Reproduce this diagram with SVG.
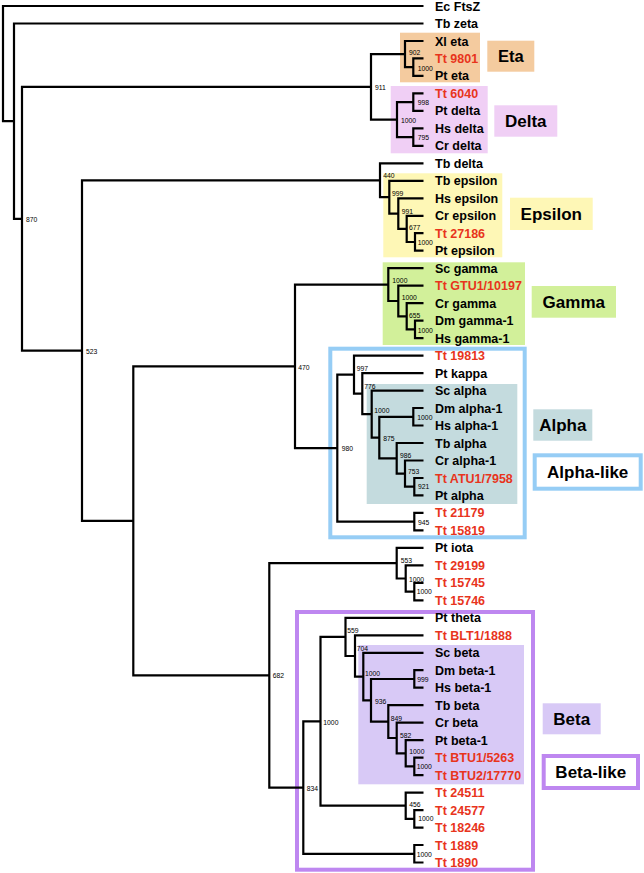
<svg xmlns="http://www.w3.org/2000/svg" width="644" height="873" viewBox="0 0 644 873">
<style>
.br{fill:none;stroke:#000;stroke-width:2.2;stroke-linejoin:miter;stroke-linecap:butt}
.lf{font-family:"Liberation Sans",Arial,sans-serif;font-weight:bold;font-size:12.5px;fill:#000}
.r{fill:#E8341C}
.bs{font-family:"Liberation Sans",Arial,sans-serif;font-size:6.8px;fill:#000}
.gl{font-family:"Liberation Sans",Arial,sans-serif;font-weight:bold;font-size:17px;fill:#000;text-anchor:middle}
.eta{fill:#F4CB9F}.delta{fill:#F0CFF5}.eps{fill:#FEF7B6}.gam{fill:#D2F09A}.alp{fill:#C4DBDE}.bet{fill:#D8C9F6}
.ol1{fill:none;stroke:#96CDF5;stroke-width:4}
.ol2{fill:none;stroke:#BE87F0;stroke-width:4}
</style>
<rect width="644" height="873" fill="#fff"/>
<g id="clade-boxes">
<rect class="eta" x="400" y="32.7" width="80" height="49.6"/>
<rect class="delta" x="390.7" y="86" width="97" height="67.3"/>
<rect class="eps" x="383.3" y="173.3" width="119" height="84"/>
<rect class="gam" x="382.7" y="262.3" width="142.3" height="82.7"/>
<rect class="alp" x="366.7" y="384" width="150.6" height="120"/>
<rect class="ol1" x="330.3" y="348.7" width="194.4" height="188.6"/>
<rect class="bet" x="358.3" y="645" width="165.7" height="139.3"/>
<rect class="ol2" x="297" y="612" width="236" height="257.7"/>
</g>
<g id="group-labels">
<g id="lab-eta"><rect class="eta" x="487.3" y="40.7" width="47" height="31"/><text class="gl" x="510.8" y="62.2" style="font-size:16.5px">Eta</text></g>
<g id="lab-delta"><rect class="delta" x="494.3" y="105.3" width="63" height="31.4"/><text class="gl" x="525.8" y="127">Delta</text></g>
<g id="lab-epsilon"><rect class="eps" x="510" y="197.7" width="82.7" height="32.3"/><text class="gl" x="551.3" y="219.8">Epsilon</text></g>
<g id="lab-gamma"><rect class="gam" x="531.7" y="286" width="84.3" height="31.7"/><text class="gl" x="573.8" y="307.8">Gamma</text></g>
<g id="lab-alpha"><rect class="alp" x="533.3" y="409.3" width="59" height="31.4"/><text class="gl" x="562.8" y="431">Alpha</text></g>
<g id="lab-alphalike"><rect class="ol1" x="534.7" y="455.3" width="106" height="33.4" style="fill:#fff"/><text class="gl" x="587.7" y="478">Alpha-like</text></g>
<g id="lab-beta"><rect class="bet" x="542.7" y="703.3" width="58" height="31"/><text class="gl" x="571.7" y="724.8">Beta</text></g>
<g id="lab-betalike"><rect class="ol2" x="543.7" y="756" width="94.3" height="32" style="fill:#fff"/><text class="gl" x="590.8" y="778">Beta-like</text></g>
</g>
<g id="connectors" class="br">
<path d="M423.5 6H3V121.2H14"/>
<path d="M423.5 23.5H14V218.8H22"/>
<path d="M371 86.9H22V350.6H82"/>
<path d="M405 54.1H371V119.6H397"/>
<path d="M423.5 41H405V67.2H413.3"/>
<path d="M423.5 58.4H413.3V75.9H423.5"/>
<path d="M413.3 102.2H397V137.1H413.3"/>
<path d="M423.5 93.4H413.3V110.9H423.5"/>
<path d="M423.5 128.4H413.3V145.8H423.5"/>
<path d="M380 180.3H82V520.9H133.3"/>
<path d="M423.5 163.3H380V197.2H389.3"/>
<path d="M423.5 180.8H389.3V213.6H398.3"/>
<path d="M423.5 198.3H398.3V228.9H406.7"/>
<path d="M423.5 215.8H406.7V242H415"/>
<path d="M423.5 233.2H415V250.7H423.5"/>
<path d="M295 366.4H133.3V675.4H269.3"/>
<path d="M388.3 284.6H295V448.1H337.3"/>
<path d="M423.5 268.2H388.3V301H398.3"/>
<path d="M423.5 285.7H398.3V316.3H406.7"/>
<path d="M423.5 303.2H406.7V329.4H415"/>
<path d="M423.5 320.6H415V338.1H423.5"/>
<path d="M354 374.6H337.3V521.7H414.3"/>
<path d="M423.5 355.6H354V393.6H362.3"/>
<path d="M423.5 373.1H362.3V414.1H371.7"/>
<path d="M423.5 390.6H371.7V437.6H379.3"/>
<path d="M413.3 416.8H379.3V458.3H396.7"/>
<path d="M423.5 408H413.3V425.5H423.5"/>
<path d="M423.5 443H396.7V473.6H405"/>
<path d="M423.5 460.5H405V486.7H414.3"/>
<path d="M423.5 478H414.3V495.4H423.5"/>
<path d="M423.5 512.9H414.3V530.4H423.5"/>
<path d="M396.7 563.2H269.3V787.6H303.3"/>
<path d="M423.5 547.9H396.7V578.5H405.7"/>
<path d="M423.5 565.4H405.7V591.6H414.3"/>
<path d="M423.5 582.8H414.3V600.3H423.5"/>
<path d="M320.5 721.3H303.3V853.8H414.3"/>
<path d="M345.5 636.9H320.5V805.7H405.7"/>
<path d="M423.5 617.8H345.5V656H355"/>
<path d="M423.5 635.3H355V676.6H363.3"/>
<path d="M423.5 652.8H363.3V700.3H371"/>
<path d="M414.3 679H371V721.6H388.3"/>
<path d="M423.5 670.2H414.3V687.7H423.5"/>
<path d="M423.5 705.2H388.3V738H396.7"/>
<path d="M423.5 722.7H396.7V753.3H405.7"/>
<path d="M423.5 740.2H405.7V766.4H414.3"/>
<path d="M423.5 757.6H414.3V775.1H423.5"/>
<path d="M423.5 792.6H405.7V818.9H414.3"/>
<path d="M423.5 810.1H414.3V827.6H423.5"/>
<path d="M423.5 845H414.3V862.5H423.5"/>
</g>
<g id="leaves" class="lf">
<g id="leaf1"><text x="435" y="10.5">Ec FtsZ</text></g>
<g id="leaf2"><text x="435" y="28">Tb zeta</text></g>
<g id="leaf3"><text x="435" y="45.5">Xl eta</text></g>
<g id="leaf4"><text class="r" x="435" y="62.9">Tt 9801</text></g>
<g id="leaf5"><text x="435" y="80.4">Pt eta</text></g>
<g id="leaf6"><text class="r" x="435" y="97.9">Tt 6040</text></g>
<g id="leaf7"><text x="435" y="115.4">Pt delta</text></g>
<g id="leaf8"><text x="435" y="132.9">Hs delta</text></g>
<g id="leaf9"><text x="435" y="150.3">Cr delta</text></g>
<g id="leaf10"><text x="435" y="167.8">Tb delta</text></g>
<g id="leaf11"><text x="435" y="185.3">Tb epsilon</text></g>
<g id="leaf12"><text x="435" y="202.8">Hs epsilon</text></g>
<g id="leaf13"><text x="435" y="220.3">Cr epsilon</text></g>
<g id="leaf14"><text class="r" x="435" y="237.7">Tt 27186</text></g>
<g id="leaf15"><text x="435" y="255.2">Pt epsilon</text></g>
<g id="leaf16"><text x="435" y="272.7">Sc gamma</text></g>
<g id="leaf17"><text class="r" x="435" y="290.2">Tt GTU1/10197</text></g>
<g id="leaf18"><text x="435" y="307.7">Cr gamma</text></g>
<g id="leaf19"><text x="435" y="325.1">Dm gamma-1</text></g>
<g id="leaf20"><text x="435" y="342.6">Hs gamma-1</text></g>
<g id="leaf21"><text class="r" x="435" y="360.1">Tt 19813</text></g>
<g id="leaf22"><text x="435" y="377.6">Pt kappa</text></g>
<g id="leaf23"><text x="435" y="395.1">Sc alpha</text></g>
<g id="leaf24"><text x="435" y="412.5">Dm alpha-1</text></g>
<g id="leaf25"><text x="435" y="430">Hs alpha-1</text></g>
<g id="leaf26"><text x="435" y="447.5">Tb alpha</text></g>
<g id="leaf27"><text x="435" y="465">Cr alpha-1</text></g>
<g id="leaf28"><text class="r" x="435" y="482.5">Tt ATU1/7958</text></g>
<g id="leaf29"><text x="435" y="499.9">Pt alpha</text></g>
<g id="leaf30"><text class="r" x="435" y="517.4">Tt 21179</text></g>
<g id="leaf31"><text class="r" x="435" y="534.9">Tt 15819</text></g>
<g id="leaf32"><text x="435" y="552.4">Pt iota</text></g>
<g id="leaf33"><text class="r" x="435" y="569.9">Tt 29199</text></g>
<g id="leaf34"><text class="r" x="435" y="587.3">Tt 15745</text></g>
<g id="leaf35"><text class="r" x="435" y="604.8">Tt 15746</text></g>
<g id="leaf36"><text x="435" y="622.3">Pt theta</text></g>
<g id="leaf37"><text class="r" x="435" y="639.8">Tt BLT1/1888</text></g>
<g id="leaf38"><text x="435" y="657.3">Sc beta</text></g>
<g id="leaf39"><text x="435" y="674.7">Dm beta-1</text></g>
<g id="leaf40"><text x="435" y="692.2">Hs beta-1</text></g>
<g id="leaf41"><text x="435" y="709.7">Tb beta</text></g>
<g id="leaf42"><text x="435" y="727.2">Cr beta</text></g>
<g id="leaf43"><text x="435" y="744.7">Pt beta-1</text></g>
<g id="leaf44"><text class="r" x="435" y="762.1">Tt BTU1/5263</text></g>
<g id="leaf45"><text class="r" x="435" y="779.6">Tt BTU2/17770</text></g>
<g id="leaf46"><text class="r" x="435" y="797.1">Tt 24511</text></g>
<g id="leaf47"><text class="r" x="435" y="814.6">Tt 24577</text></g>
<g id="leaf48"><text class="r" x="435" y="832.1">Tt 18246</text></g>
<g id="leaf49"><text class="r" x="435" y="849.5">Tt 1889</text></g>
<g id="leaf50"><text class="r" x="435" y="867">Tt 1890</text></g>
</g>
<g id="bootstrap" class="bs">
<text x="409" y="55.2">902</text>
<text x="417.7" y="70.8">1000</text>
<text x="375" y="89.5">911</text>
<text x="417.7" y="104.8">998</text>
<text x="401" y="122.5">1000</text>
<text x="417.7" y="139.8">795</text>
<text x="26" y="221.8">870</text>
<text x="86" y="353.5">523</text>
<text x="383.3" y="177.5">440</text>
<text x="392" y="195.8">999</text>
<text x="401.7" y="214.2">991</text>
<text x="409" y="229.8">677</text>
<text x="417.7" y="245.2">1000</text>
<text x="392.3" y="283.2">1000</text>
<text x="401.7" y="300.2">1000</text>
<text x="409" y="318.2">655</text>
<text x="417.7" y="332.5">1000</text>
<text x="298.3" y="369.5">470</text>
<text x="356.7" y="370.8">997</text>
<text x="364.3" y="389.2">776</text>
<text x="374.3" y="413.2">1000</text>
<text x="417.3" y="419.8">1000</text>
<text x="383.3" y="440.8">875</text>
<text x="400" y="457.5">986</text>
<text x="408" y="474.2">753</text>
<text x="418" y="488.5">921</text>
<text x="341.7" y="450.8">980</text>
<text x="418" y="525.2">945</text>
<text x="400.7" y="563.2">553</text>
<text x="409" y="581.8">1000</text>
<text x="416.7" y="594.2">1000</text>
<text x="272.7" y="678.2">682</text>
<text x="347.3" y="632.5">559</text>
<text x="356.7" y="650.8">704</text>
<text x="365" y="675.8">1000</text>
<text x="417.3" y="681.5">999</text>
<text x="375" y="704.2">936</text>
<text x="390.7" y="720.8">849</text>
<text x="400" y="737.5">582</text>
<text x="409.3" y="754.2">1000</text>
<text x="416.7" y="769.2">1000</text>
<text x="323.3" y="724.8">1000</text>
<text x="306.7" y="790.5">834</text>
<text x="409.3" y="806.8">456</text>
<text x="418.3" y="820.8">1000</text>
<text x="416.7" y="856.8">1000</text>
</g>
</svg>
